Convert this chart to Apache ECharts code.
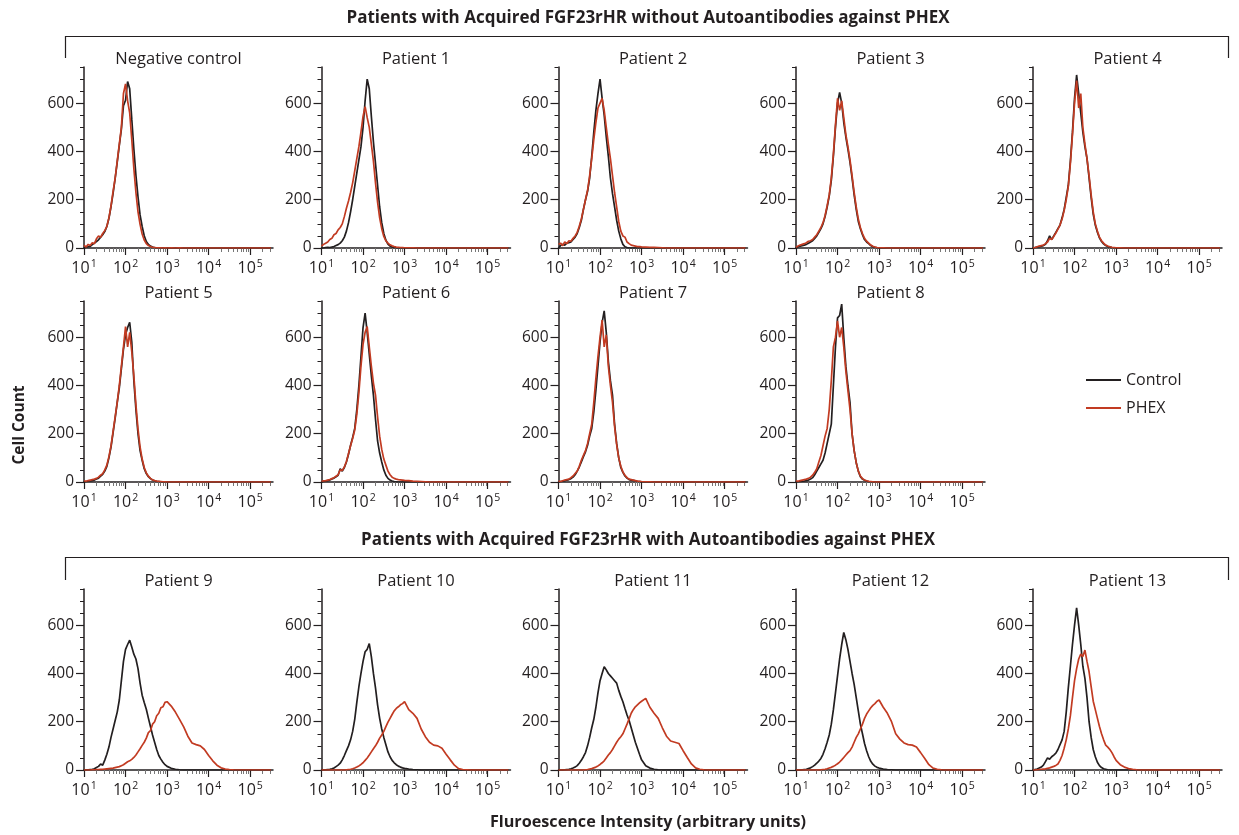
<!DOCTYPE html>
<html><head><meta charset="utf-8">
<script src="https://cdn.jsdelivr.net/npm/echarts@6/dist/echarts.min.js"></script>
<style>html,body{margin:0;padding:0;background:#fff}#c{width:1239px;height:835px}</style>
</head><body><div id="c"></div>
<script>
// x positions are log10(fluorescence intensity)
const GRID_X = [1.00,1.05,1.10,1.15,1.20,1.25,1.30,1.35,1.40,1.45,1.50,1.55,1.60,1.65,1.70,1.75,1.80,1.85,1.90,1.95,2.00,2.05,2.10,2.15,2.20,2.25,2.30,2.35,2.40,2.45,2.50,2.55,2.60,2.65,2.70,2.75,2.80,2.85,2.90,2.95,3.00,3.10,3.20,3.30,3.40,3.50,3.60,3.70,3.80,3.90,4.00,4.10,4.20,4.30,4.40,4.50,4.60,5.50];

const ctlNeg  = [0,3,5,7,14,20,27,34,45,55,68,89,123,171,226,288,356,425,493,590,612,690,660,534,411,301,212,137,89,51,27,15,8,4,2,1,1,0,0,0,0, 0,0,0,0,0,0,0,0,0,0,0,0,0,0,0,0,0];
const phexNeg = [12,4,15,10,22,18,38,50,44,60,72,90,125,175,235,290,360,430,500,640,680,610,560,450,330,230,150,98,58,33,18,10,6,3,2,1,1,1,0,1,0, 1,0,1,0,0,0,0,0,0,0,0,0,0,0,0,0,0];
const ctlP1   = [0,0,2,3,2,4,6,10,14,20,30,45,70,105,150,200,255,310,365,420,500,610,700,660,546,440,350,260,170,105,60,32,16,8,4,2,1,0,0,0,0, 0,0,0,0,0,0,0,0,0,0,0,0,0,0,0,0,0];
const phexP1  = [8,15,20,25,35,40,55,60,75,85,100,130,165,195,230,270,320,370,420,480,545,586,540,500,430,360,270,190,125,80,48,30,20,13,9,6,4,3,2,2,1, 1,1,0,0,0,0,0,0,0,0,0,0,0,0,0,0,0];
const ctlP2   = [0,10,15,12,20,22,25,35,45,60,85,115,160,200,235,290,380,480,570,640,700,620,550,460,380,290,225,170,115,70,38,15,5,2,0,0,0,0,0,0,0, 0,0,0,0,0,0,0,0,0,0,0,0,0,0,0,0,0];
const phexP2  = [15,20,10,25,18,30,28,40,50,65,90,120,160,200,240,300,370,450,520,580,600,620,570,500,430,370,300,230,170,110,70,50,45,25,18,12,10,8,6,6,5, 4,3,3,2,1,0,0,0,0,0,0,0,0,0,0,0,0];
const ctlP3   = [0,5,8,10,12,15,20,25,30,40,50,65,80,100,130,170,215,280,380,500,600,645,600,520,460,410,355,290,220,160,110,80,55,35,25,18,10,5,3,1,0, 0,0,0,0,0,0,0,0,0,0,0,0,0,0,0,0,0];
const phexP3  = [3,8,12,15,18,22,28,30,35,45,55,70,85,105,135,175,220,290,390,510,620,570,610,540,470,420,365,300,230,170,120,85,60,40,28,20,12,7,4,2,1, 1,0,0,0,0,0,0,0,0,0,0,0,0,0,0,0,0];
const ctlP4   = [0,2,4,6,8,10,15,30,50,35,50,65,80,95,125,160,210,260,360,480,620,717,640,560,480,420,370,290,210,140,95,65,42,27,17,10,6,4,2,1,0, 0,0,0,0,0,0,0,0,0,0,0,0,0,0,0,0,0];
const phexP4  = [0,2,5,8,10,12,18,25,40,35,48,62,78,95,120,155,200,255,350,470,600,694,580,640,500,430,370,300,220,150,100,70,45,30,20,12,8,5,3,2,1, 1,0,0,0,0,0,0,0,0,0,0,0,0,0,0,0,0];
const ctlP5   = [0,2,3,5,6,8,12,16,24,32,45,65,100,145,205,265,330,390,470,550,610,640,662,580,420,300,200,130,90,55,35,22,14,8,5,3,2,1,0,0,0, 0,0,0,0,0,0,0,0,0,0,0,0,0,0,0,0,0];
const phexP5  = [5,3,6,8,10,12,15,20,28,35,50,70,105,150,210,270,330,400,480,560,644,560,620,540,440,320,220,145,95,60,38,24,15,9,6,4,3,2,1,1,0, 0,0,0,0,0,0,0,0,0,0,0,0,0,0,0,0,0];
const ctlP6   = [0,2,4,6,8,12,16,22,28,55,45,60,83,115,152,185,222,300,400,520,640,700,620,530,440,360,260,170,120,83,50,28,15,8,4,2,1,0,0,0,0, 0,0,0,0,0,0,0,0,0,0,0,0,0,0,0,0,0];
const phexP6  = [3,5,6,8,10,14,18,24,30,50,48,62,85,118,150,180,215,280,370,480,570,620,644,560,480,410,360,270,190,135,95,70,45,30,20,15,12,10,9,8,7, 6,4,3,2,1,0,0,0,0,0,0,0,0,0,0,0,0];
const ctlP7   = [0,2,3,5,8,10,14,20,30,45,62,83,105,125,152,190,222,290,380,480,580,660,709,620,500,420,360,240,160,100,60,40,25,16,10,8,7,5,3,2,1, 0,0,0,0,0,0,0,0,0,0,0,0,0,0,0,0,0];
const phexP7  = [4,2,5,8,10,12,18,25,35,45,65,90,110,130,160,200,240,330,430,520,600,671,560,610,480,400,330,230,155,100,65,42,28,18,12,10,8,6,4,3,2, 1,1,0,0,0,0,0,0,0,0,0,0,0,0,0,0,0];
const ctlP8   = [0,1,2,3,4,6,8,12,18,30,45,60,75,90,120,160,200,240,400,560,680,690,737,600,480,400,330,200,130,80,45,22,12,7,4,2,1,0,0,0,0, 0,0,0,0,0,0,0,0,0,0,0,0,0,0,0,0,0];
const phexP8  = [5,3,6,8,10,12,15,20,28,40,55,83,110,150,190,222,300,420,560,600,668,600,640,560,460,380,300,200,130,80,45,25,14,8,5,3,2,1,0,0,0, 0,0,0,0,0,0,0,0,0,0,0,0,0,0,0,0,0];
const ctlP9   = [0,0,1,2,3,5,10,15,25,20,41,65,95,135,170,205,240,290,370,450,500,520,538,510,480,460,420,360,310,280,252,215,180,145,115,85,60,45,32,22,15, 7,3,1,0,0,0,0,0,0,0,0,0,0,0,0,0,0];
const phexP9  = [0,0,0,0,1,1,2,2,3,3,4,5,6,7,8,10,12,14,18,22,28,34,38,44,52,62,75,88,102,115,132,155,163,190,200,225,235,258,262,280,283, 265,240,210,179,140,112,105,100,85,60,38,20,9,4,2,1,0];
const ctlP10  = [0,0,1,2,3,5,8,14,20,28,42,60,80,100,125,160,210,280,345,400,450,490,500,524,470,400,340,270,214,170,135,105,75,55,40,30,22,16,12,9,7, 4,2,1,0,0,0,0,0,0,0,0,0,0,0,0,0,0];
const phexP10 = [0,0,0,0,0,0,0,0,0,0,0,0,1,2,3,5,8,12,17,23,30,40,50,62,75,88,100,115,132,145,160,180,198,214,230,245,255,262,270,275,283, 250,235,214,170,138,115,103,100,90,65,42,20,6,2,1,0,0];
const ctlP11  = [0,0,0,1,2,3,5,8,12,18,28,40,55,72,100,135,175,210,260,320,370,400,428,415,400,390,380,370,360,330,305,283,255,228,205,175,145,115,90,65,42, 18,8,3,1,0,0,0,0,0,0,0,0,0,0,0,0,0];
const phexP11 = [0,0,0,0,0,0,0,0,0,0,0,0,0,1,2,4,6,9,12,17,23,30,38,50,62,72,85,100,115,128,138,150,170,190,212,235,250,262,270,278,285, 297,260,235,214,175,140,120,115,110,80,52,25,9,3,1,0,0];
const ctlP12  = [0,0,0,1,2,3,6,9,14,20,28,37,48,65,88,115,145,190,250,320,390,460,520,570,540,500,450,400,355,300,245,190,150,110,80,55,36,24,16,11,8, 4,2,1,0,0,0,0,0,0,0,0,0,0,0,0,0,0];
const phexP12 = [0,0,0,0,0,0,0,0,0,0,0,0,1,2,3,5,8,11,15,20,26,33,42,52,62,72,80,95,115,135,150,170,190,214,232,245,258,268,275,285,290, 260,235,200,150,128,112,105,103,95,72,48,22,8,3,1,0,0];
const ctlP13  = [0,2,4,8,12,20,35,50,45,55,62,70,85,105,125,160,240,340,430,520,600,672,600,520,430,380,300,200,135,85,55,32,18,10,5,3,1,0,0,0,0, 0,0,0,0,0,0,0,0,0,0,0,0,0,0,0,0,0];
const phexP13 = [0,0,1,2,3,4,5,7,9,12,15,19,25,40,60,90,125,170,225,300,370,420,460,480,470,497,450,407,345,285,250,215,180,150,125,103,95,85,72,55,40, 22,12,6,3,1,0,0,0,0,0,0,0,0,0,0,0,0];

const PANEL_TITLES = ['Negative control','Patient 1','Patient 2','Patient 3','Patient 4',
  'Patient 5','Patient 6','Patient 7','Patient 8',
  'Patient 9','Patient 10','Patient 11','Patient 12','Patient 13'];
const CONTROL_SERIES = [ctlNeg,ctlP1,ctlP2,ctlP3,ctlP4,ctlP5,ctlP6,ctlP7,ctlP8,ctlP9,ctlP10,ctlP11,ctlP12,ctlP13];
const PHEX_SERIES = [phexNeg,phexP1,phexP2,phexP3,phexP4,phexP5,phexP6,phexP7,phexP8,phexP9,phexP10,phexP11,phexP12,phexP13];
const SECTION_TITLES = ['Patients with Acquired FGF23rHR without Autoantibodies against PHEX',
  'Patients with Acquired FGF23rHR with Autoantibodies against PHEX'];
const X_EXPONENTS = [1,2,3,4,5];
const Y_TICKS = [0,200,400,600];
const Y_MAX = 750, Y_MINOR = 50, X_MIN = 1, X_MAX = 5.55;
const SERIES_NAMES = ['Control','PHEX'];

// layout
const FONT = '"Open Sans", Lato, sans-serif';
const INK = '#231f20', RED = '#c23b22';
const COL_LEFT = [84, 321.5, 558.5, 796, 1033];
const ROW_TOP = [67, 301, 589];
const PW = 189, PH = 181;
const PANEL_POS = [[0,0],[0,1],[0,2],[0,3],[0,4],[1,0],[1,1],[1,2],[1,3],[2,0],[2,1],[2,2],[2,3],[2,4]];

const xMinor = [];
for (let d = 1; d <= 5; d++) for (let k = 2; k <= 9; k++) { const v = d + Math.log10(k); if (v < X_MAX) xMinor.push(v); }

const grid = [], xAxis = [], yAxis = [], series = [], graphic = [];
PANEL_POS.forEach(([r, c], i) => {
  const left = COL_LEFT[c], top = ROW_TOP[r];
  grid.push({left, top, width: PW, height: PH});
  const axBase = {gridIndex: i, min: X_MIN, max: X_MAX, type: 'value', splitLine: {show: false}};
  xAxis.push(Object.assign({}, axBase, {
    position: 'bottom',
    axisLine: {show: true, lineStyle: {color: INK, width: 1.5}},
    axisTick: {show: true, customValues: X_EXPONENTS, length: 7, lineStyle: {color: INK, width: 1.2}},
    axisLabel: {show: true, customValues: X_EXPONENTS, margin: 11,
      formatter: v => '{b|10}{s|' + v + '}',
      rich: {b: {fontSize: 16, fontFamily: FONT, color: INK, lineHeight: 18},
             s: {fontSize: 10.5, fontFamily: FONT, color: INK, verticalAlign: 'top', lineHeight: 18, padding: [0,0,6,1]}}}
  }));
  xAxis.push(Object.assign({}, axBase, {
    position: 'bottom',
    axisLine: {show: false},
    axisTick: {show: true, customValues: xMinor, length: 4, lineStyle: {color: '#777', width: 1}},
    axisLabel: {show: false}
  }));
  const yBase = {gridIndex: i, min: 0, max: Y_MAX, type: 'value', splitLine: {show: false}, position: 'left'};
  yAxis.push(Object.assign({}, yBase, {
    axisLine: {show: true, lineStyle: {color: INK, width: 1.5}},
    axisTick: {show: true, customValues: Y_TICKS, length: 8, lineStyle: {color: INK, width: 1.2}},
    axisLabel: {show: true, customValues: Y_TICKS, margin: 10, fontSize: 15.5, fontFamily: FONT, color: INK}
  }));
  yAxis.push(Object.assign({}, yBase, {
    interval: Y_MINOR,
    axisLine: {show: false},
    axisTick: {show: true, length: 4, lineStyle: {color: INK, width: 1}},
    axisLabel: {show: false}
  }));
  series.push({type: 'line', name: SERIES_NAMES[0], xAxisIndex: 2*i, yAxisIndex: 2*i,
    data: GRID_X.map((x, k) => [x, CONTROL_SERIES[i][k]]),
    showSymbol: false, symbol: 'none', lineStyle: {color: INK, width: 1.7}, itemStyle: {color: INK}, z: 2});
  series.push({type: 'line', name: SERIES_NAMES[1], xAxisIndex: 2*i, yAxisIndex: 2*i,
    data: GRID_X.map((x, k) => [x, PHEX_SERIES[i][k]]),
    showSymbol: false, symbol: 'none', lineStyle: {color: RED, width: 1.7}, itemStyle: {color: RED}, z: 3});
  graphic.push({type: 'text', x: left + PW/2, y: top - 8,
    style: {text: PANEL_TITLES[i], align: 'center', verticalAlign: 'middle', fontSize: 16.5, fontFamily: FONT, fill: INK}});
});

// section headers and brackets
const HEAD = {align: 'center', verticalAlign: 'middle', fontWeight: 'bold', fontFamily: FONT, fill: INK};
graphic.push({type: 'text', x: 648, y: 18, style: Object.assign({text: SECTION_TITLES[0], fontSize: 17}, HEAD)});
graphic.push({type: 'text', x: 648, y: 540, style: Object.assign({text: SECTION_TITLES[1], fontSize: 17}, HEAD)});
graphic.push({type: 'polyline', shape: {points: [[65.5,58],[65.5,36.5],[1228.5,36.5],[1228.5,58]]}, style: {stroke: INK, lineWidth: 1.2, fill: null}});
graphic.push({type: 'polyline', shape: {points: [[65.5,580],[65.5,557.5],[1228.5,557.5],[1228.5,580]]}, style: {stroke: INK, lineWidth: 1.2, fill: null}});
graphic.push({type: 'text', x: 20, y: 425, rotation: Math.PI/2, style: Object.assign({text: 'Cell Count', fontSize: 15.5}, HEAD)});
graphic.push({type: 'text', x: 648, y: 822, style: Object.assign({text: 'Fluroescence Intensity (arbitrary units)', fontSize: 16.2}, HEAD)});

const chart = echarts.init(document.getElementById('c'), null, {renderer: 'canvas'});
chart.setOption({
  animation: false,
  backgroundColor: '#fff',
  textStyle: {fontFamily: FONT},
  legend: {data: SERIES_NAMES, orient: 'vertical', left: 1081, top: 367, icon: 'rect', itemWidth: 35, itemHeight: 2, itemGap: 12,
    textStyle: {fontSize: 16, color: INK, fontFamily: FONT}, selectedMode: false},
  grid, xAxis, yAxis, series, graphic
});
</script></body></html>
